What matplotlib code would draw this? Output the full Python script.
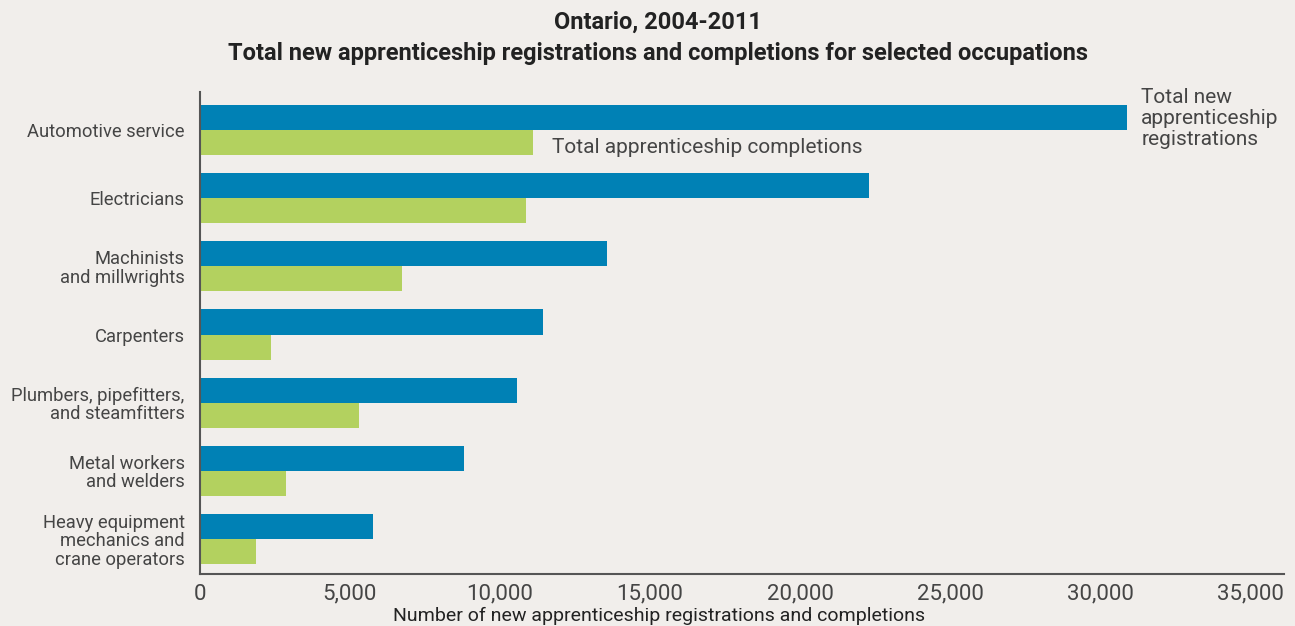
import numpy as np
import matplotlib.pyplot as plt

occupations = [
    "Automotive service",
    "Electricians",
    "Machinists\nand millwrights",
    "Carpenters",
    "Plumbers, pipefitters,\nand steamfitters",
    "Metal workers\nand welders",
    "Heavy equipment\nmechanics and\ncrane operators",
]
registrations = [30900, 22300, 13570, 11430, 10570, 8800, 5770]
completions = [11100, 10870, 6720, 2370, 5300, 2870, 1870]

bg = "#F1EEEB"
blue = "#0081B5"
green = "#B3D15F"
text_col = "#454545"

plt.rcParams["font.family"] = ["Roboto", "DejaVu Sans"]

fig = plt.figure(figsize=(12.95, 6.26), dpi=100, facecolor=bg)
ax = fig.add_axes([0.1544, 0.0831, 0.8371, 0.7699])
ax.set_facecolor(bg)

y = np.arange(len(occupations))
h = 0.367
ax.barh(y - h / 2, registrations, height=h, color=blue)
ax.barh(y + h / 2, completions, height=h, color=green)

ax.set_xlim(0, 36130)
ax.set_ylim(len(occupations) - 1 + 0.513, -0.557)
ax.set_xticks(np.arange(0, 35001, 5000))
ax.set_xticklabels([f"{v:,}" for v in range(0, 35001, 5000)])
ax.set_yticks(y)
ax.set_yticklabels(occupations, linespacing=1.04)
ax.tick_params(axis="both", length=0, labelcolor=text_col)
ax.tick_params(axis="y", pad=11, labelsize=13.2)
ax.tick_params(axis="x", pad=7, labelsize=16)

for s in ["top", "right"]:
    ax.spines[s].set_visible(False)
for s in ["left", "bottom"]:
    ax.spines[s].set_color("#555555")
    ax.spines[s].set_linewidth(1.5)

# axis title sits low, right on the bottom edge
fig.text(0.509, 0.008, "Number of new apprenticeship registrations and completions",
         ha="center", va="baseline", fontsize=14, color="#222222")

# series labels placed next to the first group of bars
ax.text(completions[0] + 650, h / 2 + 0.07, "Total apprenticeship completions",
        va="center", ha="left", fontsize=15, color=text_col)
ax.text(registrations[0] + 470, -h - 0.25, "Total new\napprenticeship\nregistrations",
        va="top", ha="left", fontsize=15, color=text_col, linespacing=1.14)

fig.text(0.508, 0.965, "Ontario, 2004-2011", ha="center", va="center",
         fontsize=17, fontweight="bold", color="#222222")
fig.text(0.508, 0.915,
         "Total new apprenticeship registrations and completions for selected occupations",
         ha="center", va="center", fontsize=17, fontweight="bold", color="#222222")

fig.savefig("out.png", dpi=100, facecolor=bg)
